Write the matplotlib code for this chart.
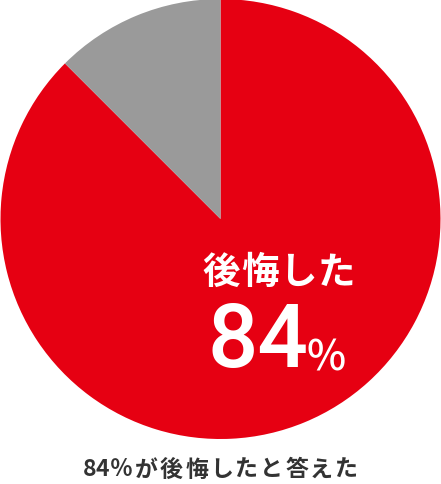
import matplotlib
matplotlib.use("Agg")
import matplotlib.pyplot as plt

plt.rcParams['font.family'] = ['Noto Sans CJK JP', 'DejaVu Sans']

labels = ["後悔した", "後悔していない"]
values = [87.5, 12.5]
colors = ["#e60012", "#9a9a9a"]
headline = "84%"
caption = "84％が後悔したと答えた"

W, H = 441, 485
fig = plt.figure(figsize=(W / 100, H / 100), dpi=100)
ax = fig.add_axes([0, 45 / H, 1, 440 / H])
ax.pie(values, colors=colors, startangle=90, counterclock=False,
       radius=1.0, wedgeprops=dict(linewidth=0))
ax.set_xlim(-1.0, 1.0)
ax.set_ylim(-1.0, 1.0)
ax.set_aspect("equal")
ax.axis("off")


def px(x, y):
    return x / W, 1 - y / H


# label inside red slice, spaced characters
for i, ch in enumerate(labels[0]):
    fig.text(*px(221 + i * 38.5, 272), ch, color="white", fontsize=27,
             fontweight="bold", ha="center", va="center")

fig.text(*px(258, 343), headline[:-1], color="white", fontsize=64,
         fontweight="medium", ha="center", va="center", family="Roboto")
fig.text(*px(326, 358), "%", color="white", fontsize=30,
         fontweight="medium", ha="center", va="center")

# caption with a little letter spacing
x0 = 83
for ch in caption:
    w = 13 if ch in "84" else 25
    fig.text(*px(x0 + w / 2, 470), ch, color="#333333", fontsize=16.5,
             fontweight="bold", ha="center", va="center")
    x0 += w

fig.savefig("out.png", dpi=100)
